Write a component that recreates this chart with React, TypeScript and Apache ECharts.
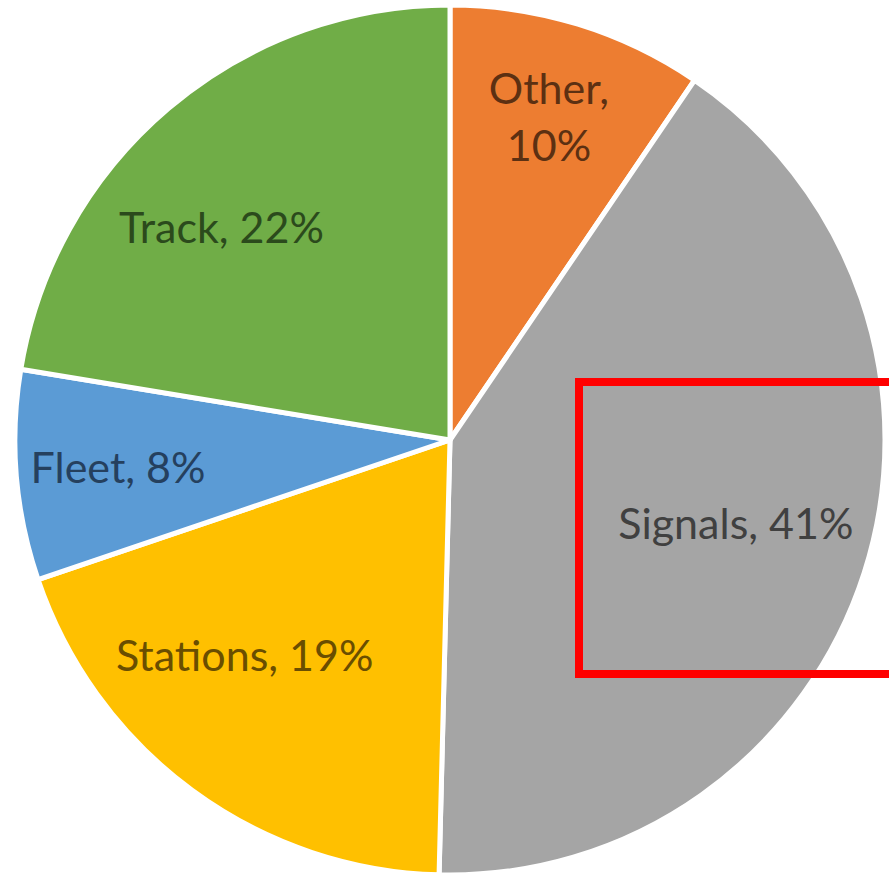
import React, { useEffect, useRef } from "react";
import * as echarts from "echarts";

// Categories, clockwise from 12 o'clock
const categories = ["Other", "Signals", "Stations", "Fleet", "Track"];
// Shares (%); labels show them rounded
const shares = [9.5, 40.9, 19.4, 7.8, 22.4];

// Styles
const sliceColors = ["#ED7D31", "#A5A5A5", "#FFC000", "#5B9BD5", "#70AD47"];
const labelColors = ["#5c3012", "#404040", "#6a4e00", "#25405e", "#2b4a1c"];
const labelNudge: [number, number][] = [
  [6, -22],
  [-15, -14],
  [-18, -40],
  [-17, 1],
  [-24, 27],
];

export default function App() {
  const ref = useRef<HTMLDivElement>(null);

  useEffect(() => {
    if (!ref.current) return;
    const chart = echarts.init(ref.current, null, { renderer: "svg" });

    const sliceData = categories.map((name, i) => ({
      name,
      value: shares[i],
      itemStyle: { color: sliceColors[i] },
    }));
    const labelData = categories.map((name, i) => ({
      name,
      value: shares[i],
      label: { color: labelColors[i] },
    }));

    chart.setOption({
      animation: false,
      backgroundColor: "#ffffff",
      series: [
        {
          type: "pie",
          center: [450, 440],
          radius: 435,
          startAngle: 90,
          clockwise: true,
          silent: true,
          label: { show: false },
          labelLine: { show: false },
          itemStyle: { borderColor: "#ffffff", borderWidth: 5 },
          emphasis: { disabled: true },
          data: sliceData,
        },
        {
          type: "pie",
          center: [450, 440],
          radius: [192, 434],
          startAngle: 90,
          clockwise: true,
          silent: true,
          itemStyle: { color: "rgba(0,0,0,0)", borderWidth: 0 },
          emphasis: { disabled: true },
          labelLine: { show: false },
          label: {
            show: true,
            position: "inside",
            fontFamily: "Lato",
            fontSize: 43,
            lineHeight: 57,
            formatter: (p: any) => {
              const pct = Math.round(p.value) + "%";
              return p.name === "Other" ? `${p.name},\n${pct}` : `${p.name}, ${pct}`;
            },
          },
          labelLayout: (p: any) => ({
            dx: labelNudge[p.dataIndex][0],
            dy: labelNudge[p.dataIndex][1],
          }),
          data: labelData,
        },
      ],
      graphic: [
        {
          type: "rect",
          z: 100,
          shape: { x: 579, y: 382, width: 330, height: 292 },
          style: { fill: "none", stroke: "#FF0000", lineWidth: 8 },
        },
      ],
    });

    return () => chart.dispose();
  }, []);

  return (
    <div
      ref={ref}
      style={{ position: "absolute", left: 0, top: 0, width: 889, height: 876 }}
    />
  );
}
